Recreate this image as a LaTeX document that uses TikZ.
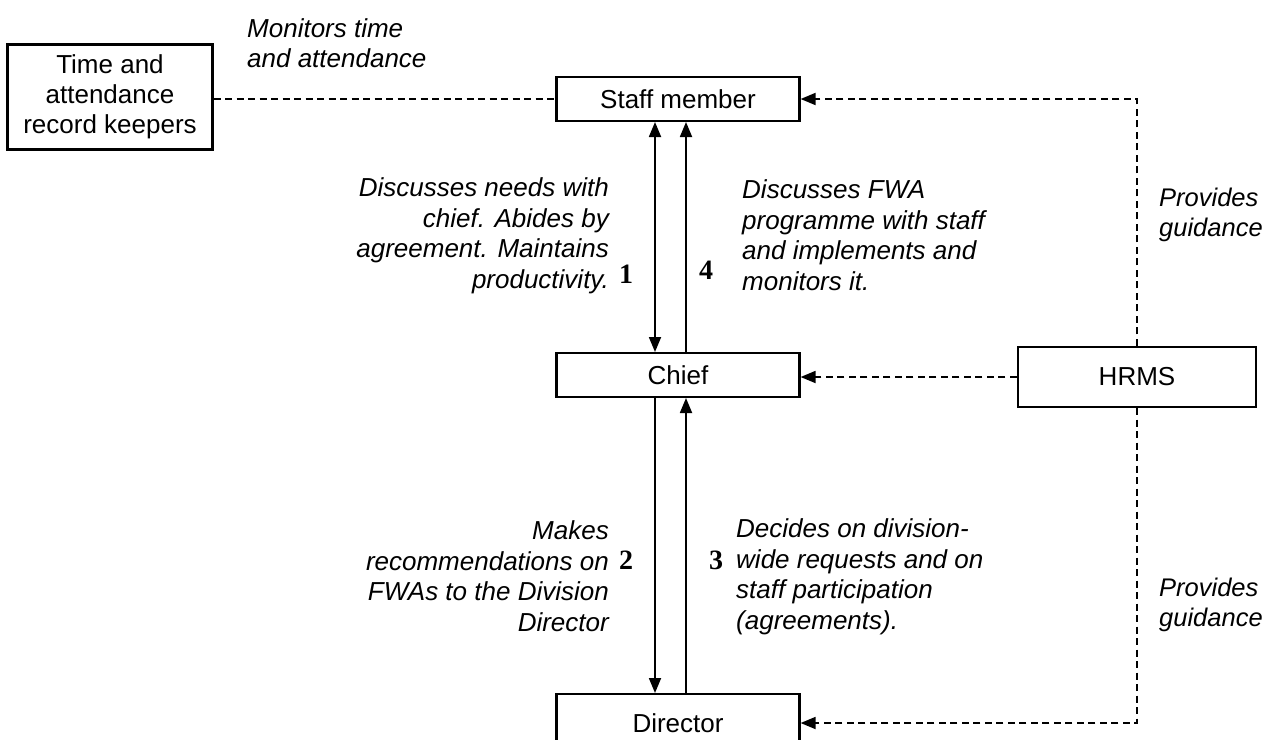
\documentclass[tikz,border=0pt]{standalone}
\usepackage{fontspec}
\setmainfont{Liberation Sans}
\newfontfamily\numfont{Liberation Serif}
\usetikzlibrary{arrows.meta,positioning,calc}
\tikzset{
  box/.style={draw,line width=2.2pt,minimum width=243pt,minimum height=44pt,inner sep=0pt,font=\fontsize{26}{30}\selectfont},
  lbl/.style={inner sep=0pt,font=\fontsize{26}{30.5}\selectfont\itshape},
  num/.style={inner sep=0pt,font=\fontsize{28}{30}\selectfont\numfont\bfseries},
  tip/.tip={Triangle[length=15pt,width=12pt]},
  solidarrow/.style={line width=1.8pt,-tip},
  dasharrow/.style={line width=1.8pt,dash pattern=on 7pt off 4.5pt,-tip},
  dashline/.style={line width=1.8pt,dash pattern=on 7pt off 4.5pt}
}
\begin{document}
\begin{tikzpicture}[x=1pt,y=-1pt]
\useasboundingbox (0,0) rectangle (1268,739);
\node[box,minimum width=205pt,minimum height=105pt,align=center] (time) at (110,97) {Time and\\attendance\\record keepers};
\node[box] (staff) at (678,99) {Staff member};
\node[box] (chief) at (678,375) {Chief};
\node[box,minimum width=238pt,minimum height=60pt] (hrms) at (1137,377) {HRMS};
\node[box,minimum height=58pt] (dir) at (678,723) {Director};

\coordinate (c1) at (hrms.north |- staff.east);
\coordinate (c2) at (hrms.south |- dir.east);

\draw[dashline] (time.east |- staff.west) -- (staff.west);
\draw[dasharrow] (hrms.north) -- (c1) -- (staff.east);
\draw[dasharrow] (hrms.west) -- (hrms.west -| chief.east);
\draw[dasharrow] (hrms.south) -- (c2) -- (dir.east);

\coordinate (a1t) at (655,122);
\coordinate (a1b) at (655,352);
\coordinate (a4t) at (686,122);
\coordinate (a4b) at (686,352);
\coordinate (a2t) at (655,398);
\coordinate (a2b) at (655,693);
\coordinate (a3t) at (686,398);
\coordinate (a3b) at (686,693);
\draw[line width=1.8pt,tip-tip] (a1t) -- (a1b);
\draw[solidarrow] (a4b) -- (a4t);
\draw[solidarrow] (a2t) -- (a2b);
\draw[solidarrow] (a3b) -- (a3t);

\node[lbl,align=left,anchor=west] (mon) at (247,43) {Monitors time\\and attendance};
\node[lbl,align=right,anchor=east] (l1) at (609,236) {Discusses needs with\\chief. Abides by\\agreement. Maintains\\productivity.};
\node[num] (n1) at (626,274) {1};
\node[lbl,align=left,anchor=west] (l4) at (742,235) {Discusses FWA\\programme with staff\\and implements and\\monitors it.};
\node[num] (n4) at (706,270) {4};
\node[lbl,align=right,anchor=east] (l2) at (609,576) {Makes\\recommendations on\\FWAs to the Division\\Director};
\node[num] (n2) at (626,560) {2};
\node[lbl,align=left,anchor=west] (l3) at (736,577) {Decides on division-\\wide requests and on\\staff participation\\(agreements).};
\node[num] (n3) at (716,560) {3};
\node[lbl,align=left,anchor=west,font=\fontsize{25.5}{30}\selectfont\itshape] (g1) at (1159,215) {Provides\\guidance};
\node[lbl,align=left,anchor=west,font=\fontsize{25.5}{30}\selectfont\itshape] (g2) at (1159,605) {Provides\\guidance};
\end{tikzpicture}
\end{document}
